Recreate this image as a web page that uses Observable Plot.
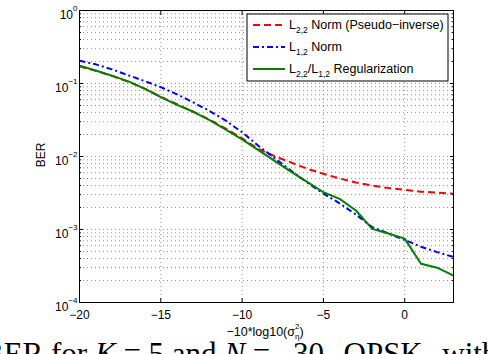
<!DOCTYPE html>
<html><head><meta charset="utf-8">
<script src="https://cdn.jsdelivr.net/npm/d3@7"></script>
<script src="https://cdn.jsdelivr.net/npm/@observablehq/plot@0.6"></script>
<style>
html,body{margin:0;padding:0;background:#fff;overflow:hidden;width:488px;height:354px;position:relative;}
.cap{position:absolute;top:338px;font-family:"Liberation Serif","Times New Roman",serif;font-size:31px;line-height:31px;white-space:nowrap;color:#000;}
</style></head><body>
<div id="chart"></div>
<div class="cap" style="left:-17px">BER for <i>K</i> = 5 and <i>N</i> =</div>
<div class="cap" style="left:293px;word-spacing:4px">30, QPSK, with 1-bit</div>
<script>
// x values (dB)
const snr = [-20,-19,-18,-17,-16,-15,-14,-13,-12,-11,-10,-9,-8,-7,-6,-5,-4,-3,-2,-1,0,1,2,3];
// L2,2 Norm (Pseudo-inverse)
const berPinv = [0.172,0.149,0.127,0.106,0.085,0.066,0.052,0.041,0.032,0.024,0.0178,0.0127,0.0101,0.0083,0.0068,0.0058,0.0050,0.0044,0.0040,0.0037,0.0035,0.0033,0.0032,0.0031];
// L1,2 Norm
const berL12 = [0.205,0.183,0.156,0.130,0.108,0.089,0.071,0.055,0.042,0.031,0.0215,0.0140,0.0095,0.0064,0.0044,0.0031,0.00228,0.0016,0.00108,0.00088,0.00072,0.00058,0.00049,0.00042];
// L2,2/L1,2 Regularization
const berReg = [0.175,0.151,0.128,0.107,0.085,0.065,0.051,0.041,0.0316,0.0234,0.0172,0.0122,0.0087,0.0062,0.0045,0.00324,0.00263,0.00182,0.00102,0.00088,0.00075,0.00034,0.00030,0.000234];

const xTicks = [-20,-15,-10,-5,0];
const yTicks = [1e-4,1e-3,1e-2,1e-1,1];
const yGrid = [];
for (let k = -4; k < 0; k++) for (let m = 1; m <= 9; m++) yGrid.push(m * Math.pow(10, k));
yGrid.push(1);

const seriesColors = ["#ff0000", "#0000ff", "#008000"];
const seriesDash = ["7,4", "6,3,2,3", null];
// legend labels as [text, mode] parts
const legendLabels = [
  [["L",""],["2,2","sub"],[" Norm (Pseudo\u2212inverse)",""]],
  [["L",""],["1,2","sub"],[" Norm",""]],
  [["L",""],["2,2","sub"],["/L",""],["1,2","sub"],[" Regularization",""]]
];

const seriesValues = [berPinv, berL12, berReg];
const rows = [];
seriesValues.forEach((vals, s) => vals.forEach((v, i) => rows.push({x: snr[i], y: v, s})));

const fmtX = d => d < 0 ? "\u2212" + (-d) : String(d);
const noText = () => "";

const lineMarks = [0,1,2].map(s => Plot.line(rows.filter(d => d.s === s), {
  x: "x", y: "y", stroke: seriesColors[s], strokeWidth: 2,
  strokeDasharray: seriesDash[s], strokeLinecap: "butt", strokeLinejoin: "round"
}));

const svg = Plot.plot({
  width: 488, height: 340,
  marginLeft: 79, marginRight: 35, marginTop: 10, marginBottom: 38,
  style: {fontFamily: '"Liberation Sans", Arial, sans-serif', fontSize: "12px", background: "white", color: "black", overflow: "visible"},
  x: {domain: [-20, 3]},
  y: {type: "log", domain: [1e-4, 1]},
  marks: [
    Plot.ruleY(yGrid, {stroke: "#777", strokeDasharray: "1,3", strokeWidth: 0.8}),
    Plot.ruleX(xTicks, {stroke: "#777", strokeDasharray: "1,3", strokeWidth: 0.8}),
    ...lineMarks,
    Plot.frame({stroke: "black", strokeWidth: 1}),
    Plot.axisX({ticks: xTicks, tickSize: -4, tickPadding: 12, tickFormat: fmtX, label: null}),
    Plot.axisX({anchor: "top", ticks: xTicks, tickSize: -4, tickFormat: noText, label: null}),
    Plot.axisY({ticks: yTicks, tickSize: -4, tickPadding: 6, tickFormat: d => String(Math.round(Math.log10(d))), label: null}),
    Plot.axisY({anchor: "right", ticks: yTicks, tickSize: -4, tickFormat: noText, label: null}),
    Plot.axisY({ticks: yGrid, tickSize: -2, tickFormat: noText, label: null}),
    Plot.axisY({anchor: "right", ticks: yGrid, tickSize: -2, tickFormat: noText, label: null})
  ]
});
document.getElementById("chart").appendChild(svg);

const root = d3.select(svg);
// Y tick labels as 10^k
root.selectAll('g[aria-label="y-axis tick label"] text').each(function() {
  const t = this.textContent;
  if (!t) return;
  const e = t.replace("-", "\u2212");
  const sel = d3.select(this);
  sel.text(null).attr("dy", "0.42em");
  sel.append("tspan").text("10");
  sel.append("tspan").attr("dy", -8).attr("font-size", "8px").text(e);
});

// y label
root.append("text")
  .attr("transform", "translate(45,155) rotate(-90)")
  .attr("text-anchor", "middle")
  .attr("font-size", "12px")
  .text("BER");

// x label
const xl = root.append("text")
  .attr("x", 265).attr("y", 336)
  .attr("text-anchor", "middle")
  .attr("font-size", "12.5px");
xl.append("tspan").text("\u221210*log10(\u03c3");
xl.append("tspan").attr("dy", -7).attr("font-size", "8px").text("2");
xl.append("tspan").attr("dx", -4.5).attr("dy", 10).attr("font-size", "8px").text("\u03b7");
xl.append("tspan").attr("dy", -3).text(")");

// legend
const lg = root.append("g").attr("aria-label", "legend").attr("text-anchor", "start");
lg.append("rect").attr("x", 247).attr("y", 14).attr("width", 201).attr("height", 67)
  .attr("fill", "white").attr("stroke", "black").attr("stroke-width", 1);
const rowY = [25, 47, 69];
legendLabels.forEach((parts, i) => {
  lg.append("line").attr("x1", 253).attr("x2", 285).attr("y1", rowY[i]).attr("y2", rowY[i])
    .attr("stroke", seriesColors[i]).attr("stroke-width", 2)
    .attr("stroke-dasharray", seriesDash[i]).attr("stroke-linecap", "butt");
  const t = lg.append("text").attr("x", 289).attr("y", rowY[i] + 3.5)
    .attr("font-size", "12.5px").attr("text-anchor", "start");
  let shifted = false;
  parts.forEach(([txt, mode]) => {
    const ts = t.append("tspan").text(txt);
    if (mode === "sub") { ts.attr("dy", 4).attr("font-size", "8.5px"); shifted = true; }
    else if (shifted) { ts.attr("dy", -4); shifted = false; }
  });
});
</script>
</body></html>
